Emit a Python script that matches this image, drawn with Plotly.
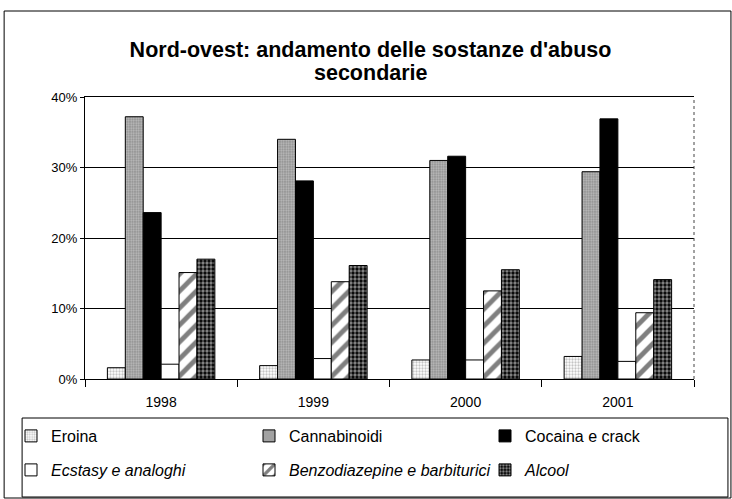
import plotly.graph_objects as go

years = ["1998", "1999", "2000", "2001"]
series_names = ["Eroina", "Cannabinoidi", "Cocaina e crack",
                "Ecstasy e analoghi", "Benzodiazepine e barbiturici", "Alcool"]
eroina = [0.016, 0.019, 0.027, 0.032]
cannabinoidi = [0.372, 0.340, 0.310, 0.294]
cocaina = [0.236, 0.281, 0.316, 0.369]
ecstasy = [0.021, 0.029, 0.027, 0.025]
benzo = [0.151, 0.138, 0.125, 0.094]
alcool = [0.170, 0.161, 0.155, 0.141]
y_ticks = [0, 0.1, 0.2, 0.3, 0.4]
title_line1 = "Nord-ovest: andamento delle sostanze d'abuso"
title_line2 = "secondarie"

W, H = 732, 499
PL, PR, PT, PB = 84, 694, 97, 379
PW, PH = PR - PL, PB - PT

def px_x(x):
    return (x - PL) / PW

def px_y(y):
    return (PB - y) / PH

FONT = "Liberation Sans, Arial, sans-serif"

styles = [
    dict(color="white", pattern=dict(shape=".", fgcolor="#8a8a8a", bgcolor="white", size=3, solidity=0.45)),
    dict(color="#bdbdbd", pattern=dict(shape=".", fgcolor="#f0f0f0", bgcolor="#8f8f8f", size=2.5, solidity=0.45)),
    dict(color="black"),
    dict(color="white"),
    dict(color="white", pattern=dict(shape="/", fgcolor="black", bgcolor="white", size=12, solidity=0.4)),
    dict(color="black", pattern=dict(shape=".", fgcolor="white", bgcolor="black", size=4, solidity=0.55)),
]
data = [eroina, cannabinoidi, cocaina, ecstasy, benzo, alcool]

# legend positions (item left x, row centre y) in pixels
leg_x = [11, 249, 485, 11, 249, 485]
leg_y = [436, 436, 436, 470, 470, 470]

fig = go.Figure()
legend_layouts = {}
for i, (name, vals, st) in enumerate(zip(series_names, data, styles)):
    lname = "legend" if i == 0 else f"legend{i+1}"
    marker = dict(color=st["color"], line=dict(color="black", width=1))
    if "pattern" in st:
        marker["pattern"] = st["pattern"]
    fig.add_trace(go.Bar(x=years, y=vals, name=name, marker=marker, legend=lname))
    legend_layouts[lname] = dict(
        x=px_x(leg_x[i]), y=px_y(leg_y[i]), xanchor="left", yanchor="middle",
        xref="paper", yref="paper", bgcolor="rgba(0,0,0,0)", borderwidth=0,
        font=dict(family=FONT, size=16, color="black",
                  style="italic" if i >= 3 else "normal"),
    )

fig.update_layout(
    width=W, height=H,
    margin=dict(l=PL, r=W - PR, t=PT, b=H - PB, pad=0),
    paper_bgcolor="white", plot_bgcolor="white",
    barmode="group", bargap=0.294, bargroupgap=0,
    showlegend=True,
    title=dict(text=title_line1, x=370.5 / W, xanchor="center", xref="container",
               y=1 - 49 / H, yanchor="middle", yref="container",
               font=dict(family=FONT, size=21.5, color="black", weight="bold")),
    xaxis=dict(type="category", showline=True, linecolor="black", linewidth=1, mirror=True,
               ticks="outside", tickson="boundaries", ticklen=7, tickcolor="black",
               tickfont=dict(family=FONT, size=14, color="black"),
               showgrid=False, zeroline=False, ticklabelstandoff=10),
    yaxis=dict(range=[0, 0.4], tickvals=y_ticks, tickformat=".0%",
               showline=True, linecolor="black", linewidth=1,
               ticks="outside", ticklen=4, tickcolor="black",
               tickfont=dict(family=FONT, size=13, color="black"),
               showgrid=True, gridcolor="black", gridwidth=1, zeroline=False),
    **legend_layouts,
)

fig.add_annotation(text=title_line2, x=px_x(370.5), y=px_y(73), xref="paper", yref="paper",
                   xanchor="center", yanchor="middle", showarrow=False,
                   font=dict(family=FONT, size=21.5, color="black", weight="bold"))

# outer chart border
fig.add_shape(type="rect", xref="paper", yref="paper",
              x0=px_x(3), x1=px_x(731), y0=px_y(498), y1=px_y(11),
              line=dict(color="black", width=1), fillcolor="rgba(0,0,0,0)", layer="below")
# legend box
fig.add_shape(type="rect", xref="paper", yref="paper",
              x0=px_x(21), x1=px_x(728), y0=px_y(497), y1=px_y(418),
              line=dict(color="black", width=1), fillcolor="rgba(0,0,0,0)")
# right border of plot area
fig.add_shape(type="line", xref="paper", yref="paper", x0=1, x1=1, y0=0, y1=1,
              line=dict(color="#444", width=1, dash="dot"))

fig.write_html("out.html", config={"displayModeBar": False},
               post_script="document.body.style.margin='0';")
